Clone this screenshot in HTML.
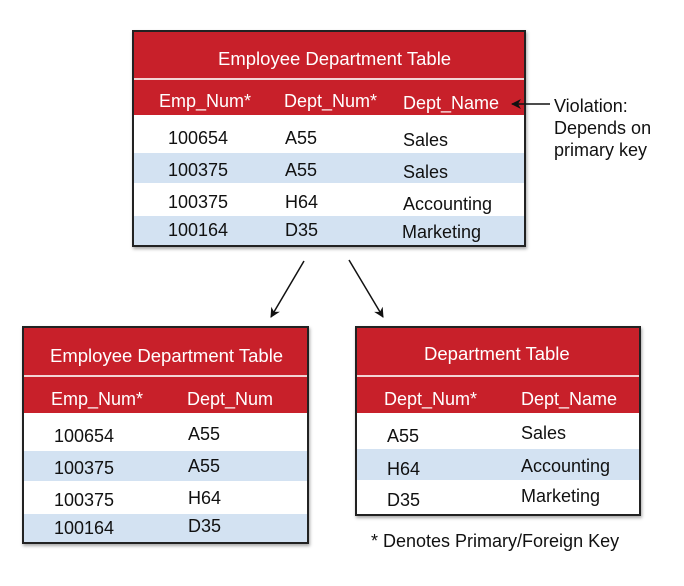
<!DOCTYPE html>
<html><head><meta charset="utf-8"><style>
body{margin:0;width:684px;height:586px;background:#fff;position:relative;overflow:hidden;font-family:"Liberation Sans",sans-serif;}
.t{position:absolute;border:2px solid #222;box-shadow:1px 2px 3px rgba(0,0,0,.35);background:#fff;box-sizing:border-box;overflow:hidden;}
.b{position:absolute;left:0;right:0;}
.red{background:#c8202a;}
.blu{background:#d3e2f2;}
.x{position:absolute;white-space:nowrap;font-size:18px;color:#111;line-height:20px;}
.w{color:#fff;}
</style></head><body>

<!-- top table -->
<div class="t" style="left:132px;top:30px;width:394px;height:217px;">
  <div class="b red" style="top:0;height:46px"></div>
  <div class="b" style="top:46px;height:2px;background:#f3d4d4"></div>
  <div class="b red" style="top:48px;height:35px"></div>
  <div class="b blu" style="top:121px;height:30px"></div>
  <div class="b blu" style="top:184px;height:29px"></div>
  <div class="x w" style="left:84px;top:17px;font-size:18.5px">Employee Department Table</div>
  <div class="x w" style="left:25px;top:59px">Emp_Num*</div>
  <div class="x w" style="left:150px;top:59px">Dept_Num*</div>
  <div class="x w" style="left:269px;top:61px">Dept_Name</div>
  <div class="x" style="left:34px;top:96px">100654</div><div class="x" style="left:151px;top:96px">A55</div><div class="x" style="left:269px;top:98px">Sales</div>
  <div class="x" style="left:34px;top:128px">100375</div><div class="x" style="left:151px;top:128px">A55</div><div class="x" style="left:269px;top:130px">Sales</div>
  <div class="x" style="left:34px;top:160px">100375</div><div class="x" style="left:151px;top:160px">H64</div><div class="x" style="left:269px;top:162px">Accounting</div>
  <div class="x" style="left:34px;top:188px">100164</div><div class="x" style="left:151px;top:188px">D35</div><div class="x" style="left:268px;top:190px">Marketing</div>
</div>

<!-- bottom left -->
<div class="t" style="left:22px;top:326px;width:287px;height:218px;">
  <div class="b red" style="top:0;height:47px"></div>
  <div class="b" style="top:47px;height:2px;background:#f3d4d4"></div>
  <div class="b red" style="top:49px;height:36px"></div>
  <div class="b blu" style="top:123px;height:30px"></div>
  <div class="b blu" style="top:186px;height:28px"></div>
  <div class="x w" style="left:26px;top:18px;font-size:18.5px">Employee Department Table</div>
  <div class="x w" style="left:27px;top:61px">Emp_Num*</div>
  <div class="x w" style="left:163px;top:61px">Dept_Num</div>
  <div class="x" style="left:30px;top:98px">100654</div><div class="x" style="left:164px;top:96px">A55</div>
  <div class="x" style="left:30px;top:130px">100375</div><div class="x" style="left:164px;top:128px">A55</div>
  <div class="x" style="left:30px;top:162px">100375</div><div class="x" style="left:164px;top:160px">H64</div>
  <div class="x" style="left:30px;top:190px">100164</div><div class="x" style="left:164px;top:188px">D35</div>
</div>

<!-- bottom right -->
<div class="t" style="left:355px;top:326px;width:286px;height:190px;">
  <div class="b red" style="top:0;height:47px"></div>
  <div class="b" style="top:47px;height:2px;background:#f3d4d4"></div>
  <div class="b red" style="top:49px;height:36px"></div>
  <div class="b blu" style="top:121px;height:31px"></div>
  <div class="x w" style="left:67px;top:16px;font-size:18.5px">Department Table</div>
  <div class="x w" style="left:27px;top:61px">Dept_Num*</div>
  <div class="x w" style="left:164px;top:61px">Dept_Name</div>
  <div class="x" style="left:30px;top:98px">A55</div><div class="x" style="left:164px;top:95px">Sales</div>
  <div class="x" style="left:30px;top:131px">H64</div><div class="x" style="left:164px;top:128px">Accounting</div>
  <div class="x" style="left:30px;top:162px">D35</div><div class="x" style="left:164px;top:158px">Marketing</div>
</div>

<div class="x" style="left:371px;top:531px">* Denotes Primary/Foreign Key</div>
<div class="x" style="left:554px;top:95px;line-height:22px">Violation:<br>Depends on<br>primary key</div>

<svg width="684" height="586" style="position:absolute;left:0;top:0">
  <defs><marker id="a" markerWidth="10" markerHeight="10" refX="9" refY="5" orient="auto" markerUnits="userSpaceOnUse"><path d="M0,0 L10,5 L0,10 L3,5 z" fill="#111"/></marker></defs>
  <line x1="550" y1="104" x2="512" y2="104" stroke="#111" stroke-width="1.5" marker-end="url(#a)"/>
  <line x1="304" y1="261" x2="271" y2="317" stroke="#111" stroke-width="1.5" marker-end="url(#a)"/>
  <line x1="349" y1="260" x2="383" y2="317" stroke="#111" stroke-width="1.5" marker-end="url(#a)"/>
</svg>
</body></html>
